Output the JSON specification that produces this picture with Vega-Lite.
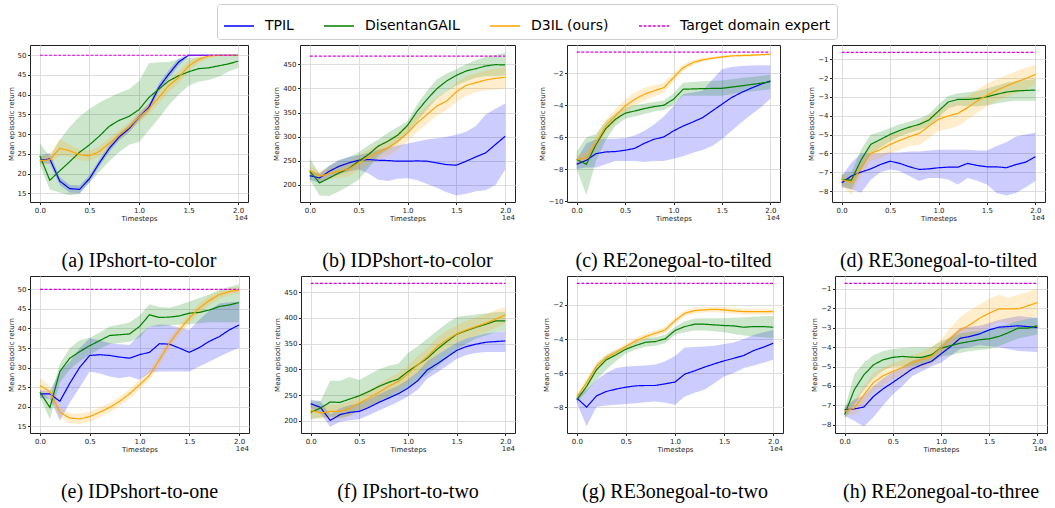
{
"$schema":"https://vega.github.io/schema/vega-lite/v6.json",
"background":"white",
"padding":{"left":6,"top":3,"right":2,"bottom":2},
"data":{"values":[
{"p":"a","m":"TPIL","x":0,"y":23.4,"lo":22.6,"hi":24.4},{"p":"a","m":"TPIL","x":0.1,"y":23.7,"lo":22.5,"hi":25.3},{"p":"a","m":"TPIL","x":0.2,"y":18.1,"lo":17.1,"hi":19.1},{"p":"a","m":"TPIL","x":0.3,"y":16.2,"lo":15.2,"hi":17.2},{"p":"a","m":"TPIL","x":0.4,"y":16.0,"lo":15.0,"hi":17.0},{"p":"a","m":"TPIL","x":0.5,"y":18.7,"lo":17.8,"hi":19.6},{"p":"a","m":"TPIL","x":0.6,"y":22.7,"lo":21.8,"hi":23.6},{"p":"a","m":"TPIL","x":0.7,"y":26.4,"lo":25.5,"hi":27.3},{"p":"a","m":"TPIL","x":0.8,"y":29.3,"lo":28.4,"hi":30.2},{"p":"a","m":"TPIL","x":0.9,"y":31.4,"lo":30.5,"hi":32.3},{"p":"a","m":"TPIL","x":1.0,"y":34.3,"lo":33.4,"hi":35.2},{"p":"a","m":"TPIL","x":1.1,"y":36.8,"lo":35.8,"hi":37.8},{"p":"a","m":"TPIL","x":1.2,"y":41.8,"lo":40.8,"hi":42.8},{"p":"a","m":"TPIL","x":1.3,"y":45.2,"lo":44.2,"hi":46.2},{"p":"a","m":"TPIL","x":1.4,"y":48.3,"lo":47.4,"hi":49.2},{"p":"a","m":"TPIL","x":1.5,"y":50,"lo":49.7,"hi":50.2},{"p":"a","m":"TPIL","x":1.7,"y":50,"lo":49.9,"hi":50.1},{"p":"a","m":"TPIL","x":2.0,"y":50,"lo":49.9,"hi":50.1},
{"p":"a","m":"DisentanGAIL","x":0,"y":24.5,"lo":22.2,"hi":27.7},{"p":"a","m":"DisentanGAIL","x":0.1,"y":18.3,"lo":16.0,"hi":24.3},{"p":"a","m":"DisentanGAIL","x":0.2,"y":20.7,"lo":15.2,"hi":28.5},{"p":"a","m":"DisentanGAIL","x":0.3,"y":23.0,"lo":14.5,"hi":31.8},{"p":"a","m":"DisentanGAIL","x":0.4,"y":25.4,"lo":14.8,"hi":34.5},{"p":"a","m":"DisentanGAIL","x":0.5,"y":27.3,"lo":17.7,"hi":36.4},{"p":"a","m":"DisentanGAIL","x":0.6,"y":29.5,"lo":20.5,"hi":38.0},{"p":"a","m":"DisentanGAIL","x":0.7,"y":32.0,"lo":23.1,"hi":39.3},{"p":"a","m":"DisentanGAIL","x":0.8,"y":33.5,"lo":25.5,"hi":40.5},{"p":"a","m":"DisentanGAIL","x":0.9,"y":34.5,"lo":27.3,"hi":41.4},{"p":"a","m":"DisentanGAIL","x":1.0,"y":36.2,"lo":28.0,"hi":43.5},{"p":"a","m":"DisentanGAIL","x":1.1,"y":39.3,"lo":31.0,"hi":48.0},{"p":"a","m":"DisentanGAIL","x":1.2,"y":41.4,"lo":34.0,"hi":48.2},{"p":"a","m":"DisentanGAIL","x":1.3,"y":43.5,"lo":37.3,"hi":48.3},{"p":"a","m":"DisentanGAIL","x":1.4,"y":44.8,"lo":40.0,"hi":49.0},{"p":"a","m":"DisentanGAIL","x":1.5,"y":45.8,"lo":42.3,"hi":49.3},{"p":"a","m":"DisentanGAIL","x":1.6,"y":46.6,"lo":43.3,"hi":49.5},{"p":"a","m":"DisentanGAIL","x":1.7,"y":46.8,"lo":43.7,"hi":49.7},{"p":"a","m":"DisentanGAIL","x":1.8,"y":47.3,"lo":44.5,"hi":49.8},{"p":"a","m":"DisentanGAIL","x":1.9,"y":47.8,"lo":45.8,"hi":50.0},{"p":"a","m":"DisentanGAIL","x":2.0,"y":48.5,"lo":46.8,"hi":50.2},
{"p":"a","m":"D3IL (ours)","x":0,"y":23.3,"lo":22.3,"hi":24.3},{"p":"a","m":"D3IL (ours)","x":0.1,"y":23.5,"lo":22.5,"hi":25.0},{"p":"a","m":"D3IL (ours)","x":0.2,"y":26.4,"lo":24.5,"hi":28.8},{"p":"a","m":"D3IL (ours)","x":0.3,"y":25.8,"lo":24.3,"hi":27.3},{"p":"a","m":"D3IL (ours)","x":0.4,"y":24.8,"lo":23.4,"hi":26.1},{"p":"a","m":"D3IL (ours)","x":0.5,"y":24.5,"lo":23.2,"hi":25.8},{"p":"a","m":"D3IL (ours)","x":0.6,"y":25.6,"lo":24.3,"hi":26.9},{"p":"a","m":"D3IL (ours)","x":0.7,"y":27.7,"lo":26.4,"hi":29.0},{"p":"a","m":"D3IL (ours)","x":0.8,"y":29.8,"lo":28.5,"hi":31.0},{"p":"a","m":"D3IL (ours)","x":0.9,"y":31.8,"lo":30.5,"hi":33.1},{"p":"a","m":"D3IL (ours)","x":1.0,"y":34.3,"lo":32.9,"hi":35.7},{"p":"a","m":"D3IL (ours)","x":1.1,"y":36.4,"lo":35.0,"hi":37.8},{"p":"a","m":"D3IL (ours)","x":1.2,"y":39.3,"lo":37.8,"hi":40.8},{"p":"a","m":"D3IL (ours)","x":1.3,"y":42.3,"lo":40.7,"hi":43.8},{"p":"a","m":"D3IL (ours)","x":1.4,"y":44.3,"lo":42.8,"hi":45.8},{"p":"a","m":"D3IL (ours)","x":1.5,"y":47.3,"lo":46.0,"hi":48.5},{"p":"a","m":"D3IL (ours)","x":1.6,"y":48.9,"lo":48.0,"hi":49.7},{"p":"a","m":"D3IL (ours)","x":1.7,"y":49.8,"lo":49.3,"hi":50.1},{"p":"a","m":"D3IL (ours)","x":1.8,"y":50,"lo":49.8,"hi":50.1},{"p":"a","m":"D3IL (ours)","x":2.0,"y":50,"lo":49.9,"hi":50.1},
{"p":"a","m":"Target domain expert","x":0,"y":50},{"p":"a","m":"Target domain expert","x":2,"y":50},

{"p":"b","m":"TPIL","x":0,"y":219.4,"lo":211,"hi":228},{"p":"b","m":"TPIL","x":0.1,"y":214.5,"lo":204,"hi":225},{"p":"b","m":"TPIL","x":0.2,"y":228.4,"lo":215,"hi":240},{"p":"b","m":"TPIL","x":0.3,"y":238.8,"lo":222,"hi":252},{"p":"b","m":"TPIL","x":0.4,"y":245.7,"lo":228,"hi":258},{"p":"b","m":"TPIL","x":0.5,"y":251.2,"lo":232,"hi":262},{"p":"b","m":"TPIL","x":0.6,"y":252.6,"lo":224,"hi":266},{"p":"b","m":"TPIL","x":0.7,"y":251.2,"lo":211,"hi":273},{"p":"b","m":"TPIL","x":0.8,"y":250.6,"lo":208,"hi":278},{"p":"b","m":"TPIL","x":0.9,"y":249.2,"lo":213,"hi":282},{"p":"b","m":"TPIL","x":1.0,"y":249.2,"lo":214,"hi":286},{"p":"b","m":"TPIL","x":1.1,"y":249.9,"lo":210,"hi":290},{"p":"b","m":"TPIL","x":1.2,"y":249.2,"lo":202,"hi":294},{"p":"b","m":"TPIL","x":1.3,"y":245.7,"lo":194,"hi":297},{"p":"b","m":"TPIL","x":1.4,"y":242.2,"lo":185,"hi":300},{"p":"b","m":"TPIL","x":1.5,"y":240.9,"lo":178,"hi":304},{"p":"b","m":"TPIL","x":1.6,"y":249.2,"lo":182,"hi":310},{"p":"b","m":"TPIL","x":1.7,"y":258.2,"lo":187,"hi":322},{"p":"b","m":"TPIL","x":1.8,"y":266.5,"lo":189,"hi":346},{"p":"b","m":"TPIL","x":1.9,"y":283.8,"lo":200,"hi":358},{"p":"b","m":"TPIL","x":2.0,"y":301,"lo":232,"hi":369},
{"p":"b","m":"DisentanGAIL","x":0,"y":228.4,"lo":211,"hi":256},{"p":"b","m":"DisentanGAIL","x":0.1,"y":204.2,"lo":178,"hi":222},{"p":"b","m":"DisentanGAIL","x":0.2,"y":214.5,"lo":177,"hi":240},{"p":"b","m":"DisentanGAIL","x":0.3,"y":225,"lo":187,"hi":250},{"p":"b","m":"DisentanGAIL","x":0.4,"y":234,"lo":198,"hi":258},{"p":"b","m":"DisentanGAIL","x":0.5,"y":249.2,"lo":211,"hi":268},{"p":"b","m":"DisentanGAIL","x":0.6,"y":263,"lo":235,"hi":282},{"p":"b","m":"DisentanGAIL","x":0.7,"y":280.3,"lo":260,"hi":294},{"p":"b","m":"DisentanGAIL","x":0.8,"y":290.7,"lo":274,"hi":308},{"p":"b","m":"DisentanGAIL","x":0.9,"y":303.2,"lo":287,"hi":320},{"p":"b","m":"DisentanGAIL","x":1.0,"y":323.3,"lo":305,"hi":332},{"p":"b","m":"DisentanGAIL","x":1.1,"y":353,"lo":332,"hi":367},{"p":"b","m":"DisentanGAIL","x":1.2,"y":377.3,"lo":356,"hi":395},{"p":"b","m":"DisentanGAIL","x":1.3,"y":399.4,"lo":379,"hi":419},{"p":"b","m":"DisentanGAIL","x":1.4,"y":415.4,"lo":393,"hi":431},{"p":"b","m":"DisentanGAIL","x":1.5,"y":427.1,"lo":406,"hi":440},{"p":"b","m":"DisentanGAIL","x":1.6,"y":436.2,"lo":415,"hi":450},{"p":"b","m":"DisentanGAIL","x":1.7,"y":441,"lo":422,"hi":459},{"p":"b","m":"DisentanGAIL","x":1.8,"y":446.5,"lo":425,"hi":465},{"p":"b","m":"DisentanGAIL","x":1.9,"y":449.3,"lo":426,"hi":470},{"p":"b","m":"DisentanGAIL","x":2.0,"y":448.6,"lo":427,"hi":474},
{"p":"b","m":"D3IL (ours)","x":0,"y":230.5,"lo":220,"hi":240},{"p":"b","m":"D3IL (ours)","x":0.1,"y":218,"lo":208,"hi":228},{"p":"b","m":"D3IL (ours)","x":0.2,"y":223.5,"lo":212,"hi":235},{"p":"b","m":"D3IL (ours)","x":0.3,"y":228.4,"lo":215,"hi":242},{"p":"b","m":"D3IL (ours)","x":0.4,"y":233.2,"lo":218,"hi":248},{"p":"b","m":"D3IL (ours)","x":0.5,"y":245.7,"lo":230,"hi":260},{"p":"b","m":"D3IL (ours)","x":0.6,"y":258.2,"lo":242,"hi":273},{"p":"b","m":"D3IL (ours)","x":0.7,"y":267.9,"lo":252,"hi":284},{"p":"b","m":"D3IL (ours)","x":0.8,"y":276.9,"lo":260,"hi":294},{"p":"b","m":"D3IL (ours)","x":0.9,"y":290.7,"lo":273,"hi":308},{"p":"b","m":"D3IL (ours)","x":1.0,"y":308,"lo":290,"hi":326},{"p":"b","m":"D3IL (ours)","x":1.1,"y":328.8,"lo":310,"hi":347},{"p":"b","m":"D3IL (ours)","x":1.2,"y":346.1,"lo":327,"hi":365},{"p":"b","m":"D3IL (ours)","x":1.3,"y":363.4,"lo":344,"hi":382},{"p":"b","m":"D3IL (ours)","x":1.4,"y":373.8,"lo":355,"hi":393},{"p":"b","m":"D3IL (ours)","x":1.5,"y":393.2,"lo":372,"hi":412},{"p":"b","m":"D3IL (ours)","x":1.6,"y":406.4,"lo":385,"hi":425},{"p":"b","m":"D3IL (ours)","x":1.7,"y":411.9,"lo":392,"hi":431},{"p":"b","m":"D3IL (ours)","x":1.8,"y":417.5,"lo":396,"hi":437},{"p":"b","m":"D3IL (ours)","x":1.9,"y":420.9,"lo":398,"hi":441},{"p":"b","m":"D3IL (ours)","x":2.0,"y":423,"lo":400,"hi":444},
{"p":"b","m":"Target domain expert","x":0,"y":467},{"p":"b","m":"Target domain expert","x":2,"y":467},

{"p":"c","m":"TPIL","x":0,"y":-7.70,"lo":-8.0,"hi":-7.4},{"p":"c","m":"TPIL","x":0.1,"y":-7.45,"lo":-7.9,"hi":-6.4},{"p":"c","m":"TPIL","x":0.2,"y":-7.03,"lo":-7.9,"hi":-6.13},{"p":"c","m":"TPIL","x":0.3,"y":-6.93,"lo":-7.7,"hi":-6.1},{"p":"c","m":"TPIL","x":0.4,"y":-6.9,"lo":-7.5,"hi":-6.1},{"p":"c","m":"TPIL","x":0.5,"y":-6.82,"lo":-7.5,"hi":-6.05},{"p":"c","m":"TPIL","x":0.6,"y":-6.7,"lo":-7.5,"hi":-5.9},{"p":"c","m":"TPIL","x":0.7,"y":-6.38,"lo":-7.55,"hi":-5.6},{"p":"c","m":"TPIL","x":0.8,"y":-6.13,"lo":-7.5,"hi":-5.2},{"p":"c","m":"TPIL","x":0.9,"y":-5.99,"lo":-7.5,"hi":-4.7},{"p":"c","m":"TPIL","x":1.0,"y":-5.61,"lo":-7.35,"hi":-4.05},{"p":"c","m":"TPIL","x":1.1,"y":-5.3,"lo":-7.2,"hi":-3.3},{"p":"c","m":"TPIL","x":1.2,"y":-5.05,"lo":-6.97,"hi":-3.2},{"p":"c","m":"TPIL","x":1.3,"y":-4.78,"lo":-6.8,"hi":-3.1},{"p":"c","m":"TPIL","x":1.4,"y":-4.36,"lo":-6.55,"hi":-2.4},{"p":"c","m":"TPIL","x":1.5,"y":-3.94,"lo":-6.13,"hi":-1.75},{"p":"c","m":"TPIL","x":1.6,"y":-3.52,"lo":-5.6,"hi":-1.6},{"p":"c","m":"TPIL","x":1.7,"y":-3.21,"lo":-5.09,"hi":-1.54},{"p":"c","m":"TPIL","x":1.8,"y":-2.94,"lo":-4.6,"hi":-1.52},{"p":"c","m":"TPIL","x":1.9,"y":-2.69,"lo":-4.15,"hi":-1.5},{"p":"c","m":"TPIL","x":2.0,"y":-2.48,"lo":-3.59,"hi":-1.5},
{"p":"c","m":"DisentanGAIL","x":0,"y":-7.39,"lo":-8.0,"hi":-6.9},{"p":"c","m":"DisentanGAIL","x":0.1,"y":-7.7,"lo":-9.62,"hi":-6.0},{"p":"c","m":"DisentanGAIL","x":0.2,"y":-6.45,"lo":-7.5,"hi":-5.8},{"p":"c","m":"DisentanGAIL","x":0.3,"y":-5.47,"lo":-6.2,"hi":-5.0},{"p":"c","m":"DisentanGAIL","x":0.4,"y":-4.88,"lo":-5.3,"hi":-4.5},{"p":"c","m":"DisentanGAIL","x":0.5,"y":-4.5,"lo":-4.85,"hi":-4.15},{"p":"c","m":"DisentanGAIL","x":0.6,"y":-4.36,"lo":-4.7,"hi":-4.0},{"p":"c","m":"DisentanGAIL","x":0.7,"y":-4.21,"lo":-4.55,"hi":-3.9},{"p":"c","m":"DisentanGAIL","x":0.8,"y":-4.09,"lo":-4.4,"hi":-3.8},{"p":"c","m":"DisentanGAIL","x":0.9,"y":-4.0,"lo":-4.3,"hi":-3.7},{"p":"c","m":"DisentanGAIL","x":1.0,"y":-3.63,"lo":-4.0,"hi":-3.25},{"p":"c","m":"DisentanGAIL","x":1.1,"y":-3.0,"lo":-3.4,"hi":-2.6},{"p":"c","m":"DisentanGAIL","x":1.2,"y":-2.98,"lo":-3.4,"hi":-2.55},{"p":"c","m":"DisentanGAIL","x":1.3,"y":-2.96,"lo":-3.4,"hi":-2.5},{"p":"c","m":"DisentanGAIL","x":1.5,"y":-2.94,"lo":-3.4,"hi":-2.45},{"p":"c","m":"DisentanGAIL","x":1.7,"y":-2.79,"lo":-3.2,"hi":-2.3},{"p":"c","m":"DisentanGAIL","x":2.0,"y":-2.54,"lo":-3.0,"hi":-2.1},
{"p":"c","m":"D3IL (ours)","x":0,"y":-7.43,"lo":-7.75,"hi":-7.1},{"p":"c","m":"D3IL (ours)","x":0.1,"y":-7.28,"lo":-7.6,"hi":-6.9},{"p":"c","m":"D3IL (ours)","x":0.2,"y":-6.34,"lo":-6.75,"hi":-5.95},{"p":"c","m":"D3IL (ours)","x":0.3,"y":-5.3,"lo":-5.75,"hi":-4.9},{"p":"c","m":"D3IL (ours)","x":0.4,"y":-4.67,"lo":-5.1,"hi":-4.25},{"p":"c","m":"D3IL (ours)","x":0.5,"y":-4.05,"lo":-4.45,"hi":-3.65},{"p":"c","m":"D3IL (ours)","x":0.6,"y":-3.63,"lo":-4.05,"hi":-3.2},{"p":"c","m":"D3IL (ours)","x":0.7,"y":-3.31,"lo":-3.7,"hi":-2.9},{"p":"c","m":"D3IL (ours)","x":0.8,"y":-3.1,"lo":-3.45,"hi":-2.75},{"p":"c","m":"D3IL (ours)","x":0.9,"y":-2.9,"lo":-3.2,"hi":-2.6},{"p":"c","m":"D3IL (ours)","x":1.0,"y":-2.27,"lo":-2.55,"hi":-2.0},{"p":"c","m":"D3IL (ours)","x":1.1,"y":-1.65,"lo":-1.85,"hi":-1.45},{"p":"c","m":"D3IL (ours)","x":1.2,"y":-1.33,"lo":-1.5,"hi":-1.18},{"p":"c","m":"D3IL (ours)","x":1.3,"y":-1.16,"lo":-1.28,"hi":-1.05},{"p":"c","m":"D3IL (ours)","x":1.4,"y":-1.06,"lo":-1.16,"hi":-0.96},{"p":"c","m":"D3IL (ours)","x":1.5,"y":-0.98,"lo":-1.08,"hi":-0.9},{"p":"c","m":"D3IL (ours)","x":1.6,"y":-0.91,"lo":-1.0,"hi":-0.84},{"p":"c","m":"D3IL (ours)","x":1.8,"y":-0.87,"lo":-0.95,"hi":-0.8},{"p":"c","m":"D3IL (ours)","x":2.0,"y":-0.81,"lo":-0.88,"hi":-0.75},
{"p":"c","m":"Target domain expert","x":0,"y":-0.68},{"p":"c","m":"Target domain expert","x":2,"y":-0.68},

{"p":"d","m":"TPIL","x":0,"y":-7.56,"lo":-7.8,"hi":-7.2},{"p":"d","m":"TPIL","x":0.1,"y":-7.2,"lo":-7.9,"hi":-6.5},{"p":"d","m":"TPIL","x":0.2,"y":-6.99,"lo":-8.09,"hi":-6.0},{"p":"d","m":"TPIL","x":0.3,"y":-6.82,"lo":-7.4,"hi":-6.0},{"p":"d","m":"TPIL","x":0.4,"y":-6.59,"lo":-7.0,"hi":-6.0},{"p":"d","m":"TPIL","x":0.5,"y":-6.41,"lo":-6.85,"hi":-5.95},{"p":"d","m":"TPIL","x":0.6,"y":-6.53,"lo":-6.94,"hi":-5.95},{"p":"d","m":"TPIL","x":0.7,"y":-6.71,"lo":-7.2,"hi":-5.9},{"p":"d","m":"TPIL","x":0.8,"y":-6.85,"lo":-7.47,"hi":-5.9},{"p":"d","m":"TPIL","x":0.9,"y":-6.82,"lo":-7.3,"hi":-5.85},{"p":"d","m":"TPIL","x":1.0,"y":-6.76,"lo":-7.3,"hi":-5.8},{"p":"d","m":"TPIL","x":1.1,"y":-6.73,"lo":-7.38,"hi":-5.8},{"p":"d","m":"TPIL","x":1.2,"y":-6.73,"lo":-7.65,"hi":-5.8},{"p":"d","m":"TPIL","x":1.3,"y":-6.53,"lo":-7.3,"hi":-5.8},{"p":"d","m":"TPIL","x":1.4,"y":-6.64,"lo":-7.45,"hi":-5.85},{"p":"d","m":"TPIL","x":1.5,"y":-6.71,"lo":-7.65,"hi":-5.85},{"p":"d","m":"TPIL","x":1.6,"y":-6.71,"lo":-8.1,"hi":-5.6},{"p":"d","m":"TPIL","x":1.7,"y":-6.76,"lo":-8.23,"hi":-5.4},{"p":"d","m":"TPIL","x":1.8,"y":-6.59,"lo":-8.1,"hi":-5.1},{"p":"d","m":"TPIL","x":1.9,"y":-6.46,"lo":-7.8,"hi":-5.0},{"p":"d","m":"TPIL","x":2.0,"y":-6.18,"lo":-7.47,"hi":-4.9},
{"p":"d","m":"DisentanGAIL","x":0,"y":-7.38,"lo":-7.7,"hi":-7.1},{"p":"d","m":"DisentanGAIL","x":0.1,"y":-7.42,"lo":-7.9,"hi":-7.0},{"p":"d","m":"DisentanGAIL","x":0.2,"y":-6.35,"lo":-6.9,"hi":-5.8},{"p":"d","m":"DisentanGAIL","x":0.3,"y":-5.52,"lo":-6.0,"hi":-5.0},{"p":"d","m":"DisentanGAIL","x":0.4,"y":-5.26,"lo":-5.7,"hi":-4.85},{"p":"d","m":"DisentanGAIL","x":0.5,"y":-4.99,"lo":-5.35,"hi":-4.65},{"p":"d","m":"DisentanGAIL","x":0.6,"y":-4.78,"lo":-5.1,"hi":-4.45},{"p":"d","m":"DisentanGAIL","x":0.7,"y":-4.6,"lo":-4.9,"hi":-4.3},{"p":"d","m":"DisentanGAIL","x":0.8,"y":-4.46,"lo":-4.75,"hi":-4.15},{"p":"d","m":"DisentanGAIL","x":0.9,"y":-4.23,"lo":-4.55,"hi":-3.9},{"p":"d","m":"DisentanGAIL","x":1.0,"y":-3.75,"lo":-4.1,"hi":-3.4},{"p":"d","m":"DisentanGAIL","x":1.1,"y":-3.27,"lo":-3.6,"hi":-2.95},{"p":"d","m":"DisentanGAIL","x":1.2,"y":-3.13,"lo":-3.45,"hi":-2.8},{"p":"d","m":"DisentanGAIL","x":1.3,"y":-3.13,"lo":-3.5,"hi":-2.75},{"p":"d","m":"DisentanGAIL","x":1.4,"y":-3.09,"lo":-3.5,"hi":-2.7},{"p":"d","m":"DisentanGAIL","x":1.5,"y":-2.99,"lo":-3.45,"hi":-2.55},{"p":"d","m":"DisentanGAIL","x":1.6,"y":-2.86,"lo":-3.35,"hi":-2.4},{"p":"d","m":"DisentanGAIL","x":1.7,"y":-2.74,"lo":-3.25,"hi":-2.25},{"p":"d","m":"DisentanGAIL","x":1.8,"y":-2.68,"lo":-3.2,"hi":-2.15},{"p":"d","m":"DisentanGAIL","x":2.0,"y":-2.63,"lo":-3.2,"hi":-2.05},
{"p":"d","m":"D3IL (ours)","x":0,"y":-7.38,"lo":-7.7,"hi":-7.1},{"p":"d","m":"D3IL (ours)","x":0.1,"y":-7.56,"lo":-8.2,"hi":-7.2},{"p":"d","m":"D3IL (ours)","x":0.2,"y":-6.76,"lo":-7.2,"hi":-6.3},{"p":"d","m":"D3IL (ours)","x":0.3,"y":-6.0,"lo":-6.4,"hi":-5.6},{"p":"d","m":"D3IL (ours)","x":0.4,"y":-5.79,"lo":-6.25,"hi":-5.35},{"p":"d","m":"D3IL (ours)","x":0.5,"y":-5.52,"lo":-6.0,"hi":-5.05},{"p":"d","m":"D3IL (ours)","x":0.6,"y":-5.31,"lo":-5.8,"hi":-4.85},{"p":"d","m":"D3IL (ours)","x":0.7,"y":-5.11,"lo":-5.6,"hi":-4.6},{"p":"d","m":"D3IL (ours)","x":0.8,"y":-4.94,"lo":-5.55,"hi":-4.4},{"p":"d","m":"D3IL (ours)","x":0.9,"y":-4.55,"lo":-5.2,"hi":-4.0},{"p":"d","m":"D3IL (ours)","x":1.0,"y":-4.19,"lo":-4.8,"hi":-3.65},{"p":"d","m":"D3IL (ours)","x":1.1,"y":-4.01,"lo":-4.7,"hi":-3.35},{"p":"d","m":"D3IL (ours)","x":1.2,"y":-3.87,"lo":-4.55,"hi":-3.2},{"p":"d","m":"D3IL (ours)","x":1.3,"y":-3.57,"lo":-4.2,"hi":-2.95},{"p":"d","m":"D3IL (ours)","x":1.4,"y":-3.22,"lo":-3.85,"hi":-2.6},{"p":"d","m":"D3IL (ours)","x":1.5,"y":-2.91,"lo":-3.5,"hi":-2.3},{"p":"d","m":"D3IL (ours)","x":1.6,"y":-2.65,"lo":-3.2,"hi":-2.05},{"p":"d","m":"D3IL (ours)","x":1.7,"y":-2.42,"lo":-3.0,"hi":-1.85},{"p":"d","m":"D3IL (ours)","x":1.8,"y":-2.21,"lo":-2.8,"hi":-1.65},{"p":"d","m":"D3IL (ours)","x":1.9,"y":-2.03,"lo":-2.6,"hi":-1.45},{"p":"d","m":"D3IL (ours)","x":2.0,"y":-1.8,"lo":-2.35,"hi":-1.3},
{"p":"d","m":"Target domain expert","x":0,"y":-0.63},{"p":"d","m":"Target domain expert","x":2,"y":-0.63},

{"p":"e","m":"TPIL","x":0,"y":23.3,"lo":22.3,"hi":24.3},{"p":"e","m":"TPIL","x":0.1,"y":23.3,"lo":22.0,"hi":24.0},{"p":"e","m":"TPIL","x":0.2,"y":21.4,"lo":16.5,"hi":29.0},{"p":"e","m":"TPIL","x":0.3,"y":26.0,"lo":21.0,"hi":31.5},{"p":"e","m":"TPIL","x":0.4,"y":30.1,"lo":25.0,"hi":35.0},{"p":"e","m":"TPIL","x":0.5,"y":33.1,"lo":29.0,"hi":37.5},{"p":"e","m":"TPIL","x":0.6,"y":33.3,"lo":28.5,"hi":37.0},{"p":"e","m":"TPIL","x":0.7,"y":33.1,"lo":27.7,"hi":36.2},{"p":"e","m":"TPIL","x":0.8,"y":32.7,"lo":27.3,"hi":36.0},{"p":"e","m":"TPIL","x":0.9,"y":32.4,"lo":27.7,"hi":35.8},{"p":"e","m":"TPIL","x":1.0,"y":33.3,"lo":26.9,"hi":38.4},{"p":"e","m":"TPIL","x":1.1,"y":33.9,"lo":28.6,"hi":40.5},{"p":"e","m":"TPIL","x":1.2,"y":36.1,"lo":29.0,"hi":41.0},{"p":"e","m":"TPIL","x":1.3,"y":36.0,"lo":29.0,"hi":40.9},{"p":"e","m":"TPIL","x":1.4,"y":35.0,"lo":29.0,"hi":40.2},{"p":"e","m":"TPIL","x":1.5,"y":33.9,"lo":29.0,"hi":39.6},{"p":"e","m":"TPIL","x":1.6,"y":35.1,"lo":30.3,"hi":42.2},{"p":"e","m":"TPIL","x":1.7,"y":36.7,"lo":31.5,"hi":44.5},{"p":"e","m":"TPIL","x":1.8,"y":37.9,"lo":32.8,"hi":46.4},{"p":"e","m":"TPIL","x":1.9,"y":39.6,"lo":34.0,"hi":46.7},{"p":"e","m":"TPIL","x":2.0,"y":40.9,"lo":35.0,"hi":46.9},
{"p":"e","m":"DisentanGAIL","x":0,"y":23.7,"lo":22.5,"hi":24.3},{"p":"e","m":"DisentanGAIL","x":0.1,"y":19.8,"lo":16.8,"hi":22.0},{"p":"e","m":"DisentanGAIL","x":0.2,"y":29.0,"lo":26.2,"hi":31.0},{"p":"e","m":"DisentanGAIL","x":0.3,"y":32.4,"lo":29.5,"hi":35.0},{"p":"e","m":"DisentanGAIL","x":0.4,"y":34.1,"lo":31.6,"hi":37.0},{"p":"e","m":"DisentanGAIL","x":0.5,"y":35.6,"lo":33.3,"hi":37.6},{"p":"e","m":"DisentanGAIL","x":0.6,"y":36.9,"lo":34.8,"hi":39.0},{"p":"e","m":"DisentanGAIL","x":0.7,"y":38.2,"lo":36.0,"hi":40.5},{"p":"e","m":"DisentanGAIL","x":0.8,"y":38.4,"lo":36.3,"hi":41.0},{"p":"e","m":"DisentanGAIL","x":0.9,"y":38.6,"lo":36.6,"hi":41.5},{"p":"e","m":"DisentanGAIL","x":1.0,"y":40.5,"lo":37.6,"hi":43.3},{"p":"e","m":"DisentanGAIL","x":1.1,"y":43.5,"lo":40.5,"hi":46.2},{"p":"e","m":"DisentanGAIL","x":1.2,"y":42.8,"lo":40.5,"hi":45.5},{"p":"e","m":"DisentanGAIL","x":1.3,"y":42.9,"lo":40.8,"hi":45.3},{"p":"e","m":"DisentanGAIL","x":1.4,"y":43.2,"lo":41.0,"hi":46.0},{"p":"e","m":"DisentanGAIL","x":1.5,"y":43.9,"lo":41.1,"hi":46.9},{"p":"e","m":"DisentanGAIL","x":1.6,"y":44.1,"lo":41.3,"hi":47.8},{"p":"e","m":"DisentanGAIL","x":1.7,"y":44.7,"lo":41.6,"hi":48.7},{"p":"e","m":"DisentanGAIL","x":1.8,"y":45.6,"lo":41.6,"hi":49.8},{"p":"e","m":"DisentanGAIL","x":1.9,"y":46.0,"lo":41.6,"hi":50.6},{"p":"e","m":"DisentanGAIL","x":2.0,"y":46.6,"lo":41.6,"hi":51.3},
{"p":"e","m":"D3IL (ours)","x":0,"y":25.4,"lo":23.5,"hi":27.3},{"p":"e","m":"D3IL (ours)","x":0.1,"y":23.9,"lo":22.5,"hi":25.3},{"p":"e","m":"D3IL (ours)","x":0.2,"y":18.6,"lo":17.2,"hi":20.0},{"p":"e","m":"D3IL (ours)","x":0.3,"y":17.1,"lo":15.8,"hi":18.4},{"p":"e","m":"D3IL (ours)","x":0.4,"y":16.9,"lo":15.6,"hi":18.3},{"p":"e","m":"D3IL (ours)","x":0.5,"y":17.5,"lo":16.2,"hi":18.8},{"p":"e","m":"D3IL (ours)","x":0.6,"y":18.6,"lo":17.3,"hi":19.9},{"p":"e","m":"D3IL (ours)","x":0.7,"y":19.8,"lo":18.6,"hi":21.0},{"p":"e","m":"D3IL (ours)","x":0.8,"y":21.4,"lo":20.2,"hi":22.6},{"p":"e","m":"D3IL (ours)","x":0.9,"y":23.3,"lo":22.1,"hi":24.5},{"p":"e","m":"D3IL (ours)","x":1.0,"y":25.6,"lo":24.4,"hi":26.8},{"p":"e","m":"D3IL (ours)","x":1.1,"y":28.0,"lo":26.8,"hi":29.2},{"p":"e","m":"D3IL (ours)","x":1.2,"y":32.0,"lo":30.8,"hi":33.2},{"p":"e","m":"D3IL (ours)","x":1.3,"y":36.2,"lo":35.0,"hi":37.4},{"p":"e","m":"D3IL (ours)","x":1.4,"y":39.6,"lo":38.4,"hi":40.8},{"p":"e","m":"D3IL (ours)","x":1.5,"y":42.6,"lo":41.4,"hi":43.8},{"p":"e","m":"D3IL (ours)","x":1.6,"y":45.2,"lo":44.0,"hi":46.4},{"p":"e","m":"D3IL (ours)","x":1.7,"y":47.1,"lo":46.0,"hi":48.2},{"p":"e","m":"D3IL (ours)","x":1.8,"y":48.6,"lo":47.6,"hi":49.6},{"p":"e","m":"D3IL (ours)","x":1.9,"y":49.4,"lo":48.5,"hi":50.3},{"p":"e","m":"D3IL (ours)","x":2.0,"y":49.8,"lo":49.0,"hi":50.6},
{"p":"e","m":"Target domain expert","x":0,"y":50},{"p":"e","m":"Target domain expert","x":2,"y":50},

{"p":"f","m":"TPIL","x":0,"y":233,"lo":225,"hi":241},{"p":"f","m":"TPIL","x":0.1,"y":226,"lo":214,"hi":238},{"p":"f","m":"TPIL","x":0.2,"y":200.6,"lo":188,"hi":212},{"p":"f","m":"TPIL","x":0.3,"y":211.7,"lo":198,"hi":224},{"p":"f","m":"TPIL","x":0.4,"y":216.2,"lo":201,"hi":230},{"p":"f","m":"TPIL","x":0.5,"y":218.1,"lo":203,"hi":234},{"p":"f","m":"TPIL","x":0.6,"y":226,"lo":211,"hi":242},{"p":"f","m":"TPIL","x":0.7,"y":235.6,"lo":220,"hi":251},{"p":"f","m":"TPIL","x":0.8,"y":244.0,"lo":228,"hi":260},{"p":"f","m":"TPIL","x":0.9,"y":252.5,"lo":237,"hi":268},{"p":"f","m":"TPIL","x":1.0,"y":263.5,"lo":247,"hi":280},{"p":"f","m":"TPIL","x":1.1,"y":277.7,"lo":260,"hi":295},{"p":"f","m":"TPIL","x":1.2,"y":299.1,"lo":282,"hi":316},{"p":"f","m":"TPIL","x":1.3,"y":310.8,"lo":294,"hi":328},{"p":"f","m":"TPIL","x":1.4,"y":323.7,"lo":307,"hi":340},{"p":"f","m":"TPIL","x":1.5,"y":336.7,"lo":320,"hi":352},{"p":"f","m":"TPIL","x":1.6,"y":344.4,"lo":328,"hi":360},{"p":"f","m":"TPIL","x":1.7,"y":349,"lo":332,"hi":365},{"p":"f","m":"TPIL","x":1.8,"y":352.8,"lo":334,"hi":370},{"p":"f","m":"TPIL","x":1.9,"y":354.1,"lo":334,"hi":372},{"p":"f","m":"TPIL","x":2.0,"y":355.4,"lo":334,"hi":374},
{"p":"f","m":"DisentanGAIL","x":0,"y":216.2,"lo":202,"hi":237},{"p":"f","m":"DisentanGAIL","x":0.1,"y":224.6,"lo":206,"hi":238},{"p":"f","m":"DisentanGAIL","x":0.2,"y":236.3,"lo":208,"hi":278},{"p":"f","m":"DisentanGAIL","x":0.3,"y":235.6,"lo":205,"hi":278},{"p":"f","m":"DisentanGAIL","x":0.4,"y":242.1,"lo":210,"hi":285},{"p":"f","m":"DisentanGAIL","x":0.5,"y":248.6,"lo":220,"hi":279},{"p":"f","m":"DisentanGAIL","x":0.6,"y":257,"lo":228,"hi":290},{"p":"f","m":"DisentanGAIL","x":0.7,"y":266.7,"lo":235,"hi":300},{"p":"f","m":"DisentanGAIL","x":0.8,"y":274.5,"lo":242,"hi":307},{"p":"f","m":"DisentanGAIL","x":0.9,"y":281,"lo":252,"hi":311},{"p":"f","m":"DisentanGAIL","x":1.0,"y":295.9,"lo":265,"hi":332},{"p":"f","m":"DisentanGAIL","x":1.1,"y":308.8,"lo":278,"hi":345},{"p":"f","m":"DisentanGAIL","x":1.2,"y":321.8,"lo":290,"hi":360},{"p":"f","m":"DisentanGAIL","x":1.3,"y":339.2,"lo":305,"hi":375},{"p":"f","m":"DisentanGAIL","x":1.4,"y":354.1,"lo":322,"hi":390},{"p":"f","m":"DisentanGAIL","x":1.5,"y":368.4,"lo":338,"hi":402},{"p":"f","m":"DisentanGAIL","x":1.6,"y":375.5,"lo":350,"hi":405},{"p":"f","m":"DisentanGAIL","x":1.7,"y":382,"lo":360,"hi":407},{"p":"f","m":"DisentanGAIL","x":1.8,"y":387.8,"lo":366,"hi":409},{"p":"f","m":"DisentanGAIL","x":1.9,"y":394.3,"lo":372,"hi":411},{"p":"f","m":"DisentanGAIL","x":2.0,"y":394.3,"lo":375,"hi":412},
{"p":"f","m":"D3IL (ours)","x":0,"y":220.1,"lo":208,"hi":232},{"p":"f","m":"D3IL (ours)","x":0.1,"y":214.9,"lo":203,"hi":227},{"p":"f","m":"D3IL (ours)","x":0.2,"y":218.1,"lo":205,"hi":231},{"p":"f","m":"D3IL (ours)","x":0.3,"y":218.1,"lo":204,"hi":232},{"p":"f","m":"D3IL (ours)","x":0.4,"y":223.3,"lo":208,"hi":238},{"p":"f","m":"D3IL (ours)","x":0.5,"y":234.3,"lo":219,"hi":250},{"p":"f","m":"D3IL (ours)","x":0.6,"y":244,"lo":228,"hi":260},{"p":"f","m":"D3IL (ours)","x":0.7,"y":255,"lo":239,"hi":271},{"p":"f","m":"D3IL (ours)","x":0.8,"y":266.7,"lo":250,"hi":283},{"p":"f","m":"D3IL (ours)","x":0.9,"y":276.4,"lo":260,"hi":293},{"p":"f","m":"D3IL (ours)","x":1.0,"y":291.3,"lo":275,"hi":308},{"p":"f","m":"D3IL (ours)","x":1.1,"y":308.8,"lo":292,"hi":326},{"p":"f","m":"D3IL (ours)","x":1.2,"y":325,"lo":308,"hi":342},{"p":"f","m":"D3IL (ours)","x":1.3,"y":344.4,"lo":327,"hi":362},{"p":"f","m":"D3IL (ours)","x":1.4,"y":357.4,"lo":340,"hi":375},{"p":"f","m":"D3IL (ours)","x":1.5,"y":369.0,"lo":352,"hi":386},{"p":"f","m":"D3IL (ours)","x":1.6,"y":376.8,"lo":360,"hi":394},{"p":"f","m":"D3IL (ours)","x":1.7,"y":383.3,"lo":366,"hi":401},{"p":"f","m":"D3IL (ours)","x":1.8,"y":389.8,"lo":372,"hi":408},{"p":"f","m":"D3IL (ours)","x":1.9,"y":397.5,"lo":380,"hi":415},{"p":"f","m":"D3IL (ours)","x":2.0,"y":406,"lo":390,"hi":422},
{"p":"f","m":"Target domain expert","x":0,"y":467.5},{"p":"f","m":"Target domain expert","x":2,"y":467.5},

{"p":"g","m":"TPIL","x":0,"y":-7.47,"lo":-7.75,"hi":-7.25},{"p":"g","m":"TPIL","x":0.1,"y":-8.0,"lo":-9.13,"hi":-6.98},{"p":"g","m":"TPIL","x":0.2,"y":-7.34,"lo":-8.0,"hi":-6.4},{"p":"g","m":"TPIL","x":0.3,"y":-7.08,"lo":-7.9,"hi":-6.0},{"p":"g","m":"TPIL","x":0.4,"y":-6.94,"lo":-7.86,"hi":-5.7},{"p":"g","m":"TPIL","x":0.5,"y":-6.83,"lo":-7.82,"hi":-5.62},{"p":"g","m":"TPIL","x":0.6,"y":-6.75,"lo":-7.77,"hi":-5.58},{"p":"g","m":"TPIL","x":0.7,"y":-6.73,"lo":-7.72,"hi":-5.55},{"p":"g","m":"TPIL","x":0.8,"y":-6.73,"lo":-7.67,"hi":-5.5},{"p":"g","m":"TPIL","x":0.9,"y":-6.63,"lo":-7.75,"hi":-5.3},{"p":"g","m":"TPIL","x":1.0,"y":-6.53,"lo":-7.86,"hi":-5.0},{"p":"g","m":"TPIL","x":1.1,"y":-6.06,"lo":-7.37,"hi":-4.5},{"p":"g","m":"TPIL","x":1.2,"y":-5.87,"lo":-7.15,"hi":-4.47},{"p":"g","m":"TPIL","x":1.3,"y":-5.65,"lo":-6.98,"hi":-4.44},{"p":"g","m":"TPIL","x":1.4,"y":-5.46,"lo":-6.6,"hi":-4.4},{"p":"g","m":"TPIL","x":1.5,"y":-5.28,"lo":-6.2,"hi":-4.3},{"p":"g","m":"TPIL","x":1.6,"y":-5.13,"lo":-6.0,"hi":-4.2},{"p":"g","m":"TPIL","x":1.7,"y":-4.97,"lo":-5.71,"hi":-4.0},{"p":"g","m":"TPIL","x":1.8,"y":-4.68,"lo":-5.55,"hi":-3.76},{"p":"g","m":"TPIL","x":1.9,"y":-4.48,"lo":-5.4,"hi":-3.6},{"p":"g","m":"TPIL","x":2.0,"y":-4.25,"lo":-5.22,"hi":-3.47},
{"p":"g","m":"DisentanGAIL","x":0,"y":-7.57,"lo":-7.72,"hi":-7.42},{"p":"g","m":"DisentanGAIL","x":0.1,"y":-6.79,"lo":-7.1,"hi":-6.5},{"p":"g","m":"DisentanGAIL","x":0.2,"y":-5.81,"lo":-6.4,"hi":-5.45},{"p":"g","m":"DisentanGAIL","x":0.3,"y":-5.22,"lo":-5.8,"hi":-4.95},{"p":"g","m":"DisentanGAIL","x":0.4,"y":-4.93,"lo":-5.3,"hi":-4.65},{"p":"g","m":"DisentanGAIL","x":0.5,"y":-4.6,"lo":-4.85,"hi":-4.4},{"p":"g","m":"DisentanGAIL","x":0.6,"y":-4.38,"lo":-4.62,"hi":-4.15},{"p":"g","m":"DisentanGAIL","x":0.7,"y":-4.19,"lo":-4.45,"hi":-3.95},{"p":"g","m":"DisentanGAIL","x":0.8,"y":-4.15,"lo":-4.4,"hi":-3.9},{"p":"g","m":"DisentanGAIL","x":0.9,"y":-3.99,"lo":-4.25,"hi":-3.75},{"p":"g","m":"DisentanGAIL","x":1.0,"y":-3.5,"lo":-3.75,"hi":-3.3},{"p":"g","m":"DisentanGAIL","x":1.1,"y":-3.27,"lo":-3.6,"hi":-2.95},{"p":"g","m":"DisentanGAIL","x":1.2,"y":-3.13,"lo":-3.5,"hi":-2.8},{"p":"g","m":"DisentanGAIL","x":1.3,"y":-3.13,"lo":-3.5,"hi":-2.78},{"p":"g","m":"DisentanGAIL","x":1.4,"y":-3.17,"lo":-3.55,"hi":-2.78},{"p":"g","m":"DisentanGAIL","x":1.5,"y":-3.21,"lo":-3.6,"hi":-2.78},{"p":"g","m":"DisentanGAIL","x":1.6,"y":-3.23,"lo":-3.7,"hi":-2.75},{"p":"g","m":"DisentanGAIL","x":1.7,"y":-3.31,"lo":-3.8,"hi":-2.72},{"p":"g","m":"DisentanGAIL","x":1.8,"y":-3.27,"lo":-3.85,"hi":-2.7},{"p":"g","m":"DisentanGAIL","x":1.9,"y":-3.27,"lo":-3.9,"hi":-2.66},{"p":"g","m":"DisentanGAIL","x":2.0,"y":-3.31,"lo":-3.95,"hi":-2.63},
{"p":"g","m":"D3IL (ours)","x":0,"y":-7.41,"lo":-7.6,"hi":-7.25},{"p":"g","m":"D3IL (ours)","x":0.1,"y":-6.55,"lo":-6.75,"hi":-6.35},{"p":"g","m":"D3IL (ours)","x":0.2,"y":-5.62,"lo":-5.82,"hi":-5.42},{"p":"g","m":"D3IL (ours)","x":0.3,"y":-5.09,"lo":-5.28,"hi":-4.9},{"p":"g","m":"D3IL (ours)","x":0.4,"y":-4.79,"lo":-4.97,"hi":-4.6},{"p":"g","m":"D3IL (ours)","x":0.5,"y":-4.44,"lo":-4.62,"hi":-4.26},{"p":"g","m":"D3IL (ours)","x":0.6,"y":-4.11,"lo":-4.3,"hi":-3.93},{"p":"g","m":"D3IL (ours)","x":0.7,"y":-3.86,"lo":-4.05,"hi":-3.68},{"p":"g","m":"D3IL (ours)","x":0.8,"y":-3.66,"lo":-3.85,"hi":-3.48},{"p":"g","m":"D3IL (ours)","x":0.9,"y":-3.47,"lo":-3.65,"hi":-3.3},{"p":"g","m":"D3IL (ours)","x":1.0,"y":-2.92,"lo":-3.1,"hi":-2.75},{"p":"g","m":"D3IL (ours)","x":1.1,"y":-2.49,"lo":-2.65,"hi":-2.33},{"p":"g","m":"D3IL (ours)","x":1.2,"y":-2.33,"lo":-2.5,"hi":-2.17},{"p":"g","m":"D3IL (ours)","x":1.3,"y":-2.29,"lo":-2.45,"hi":-2.13},{"p":"g","m":"D3IL (ours)","x":1.4,"y":-2.25,"lo":-2.42,"hi":-2.1},{"p":"g","m":"D3IL (ours)","x":1.5,"y":-2.29,"lo":-2.47,"hi":-2.12},{"p":"g","m":"D3IL (ours)","x":1.6,"y":-2.35,"lo":-2.52,"hi":-2.18},{"p":"g","m":"D3IL (ours)","x":1.7,"y":-2.39,"lo":-2.56,"hi":-2.22},{"p":"g","m":"D3IL (ours)","x":1.8,"y":-2.39,"lo":-2.56,"hi":-2.22},{"p":"g","m":"D3IL (ours)","x":1.9,"y":-2.39,"lo":-2.56,"hi":-2.22},{"p":"g","m":"D3IL (ours)","x":2.0,"y":-2.39,"lo":-2.56,"hi":-2.22},
{"p":"g","m":"Target domain expert","x":0,"y":-0.73},{"p":"g","m":"Target domain expert","x":2,"y":-0.73},

{"p":"h","m":"TPIL","x":0,"y":-7.23,"lo":-7.55,"hi":-7.05},{"p":"h","m":"TPIL","x":0.1,"y":-7.19,"lo":-7.8,"hi":-6.7},{"p":"h","m":"TPIL","x":0.2,"y":-7.09,"lo":-8.1,"hi":-6.5},{"p":"h","m":"TPIL","x":0.3,"y":-6.54,"lo":-7.6,"hi":-6.0},{"p":"h","m":"TPIL","x":0.4,"y":-6.15,"lo":-7.0,"hi":-5.6},{"p":"h","m":"TPIL","x":0.5,"y":-5.82,"lo":-6.45,"hi":-5.3},{"p":"h","m":"TPIL","x":0.6,"y":-5.48,"lo":-6.0,"hi":-5.0},{"p":"h","m":"TPIL","x":0.7,"y":-5.13,"lo":-5.5,"hi":-4.7},{"p":"h","m":"TPIL","x":0.8,"y":-4.91,"lo":-5.25,"hi":-4.55},{"p":"h","m":"TPIL","x":0.9,"y":-4.74,"lo":-5.0,"hi":-4.4},{"p":"h","m":"TPIL","x":1.0,"y":-4.35,"lo":-4.8,"hi":-3.9},{"p":"h","m":"TPIL","x":1.1,"y":-3.97,"lo":-4.45,"hi":-3.45},{"p":"h","m":"TPIL","x":1.2,"y":-3.54,"lo":-4.1,"hi":-3.0},{"p":"h","m":"TPIL","x":1.3,"y":-3.45,"lo":-4.0,"hi":-2.95},{"p":"h","m":"TPIL","x":1.4,"y":-3.32,"lo":-3.9,"hi":-2.9},{"p":"h","m":"TPIL","x":1.5,"y":-3.11,"lo":-3.95,"hi":-2.75},{"p":"h","m":"TPIL","x":1.6,"y":-2.97,"lo":-4.0,"hi":-2.6},{"p":"h","m":"TPIL","x":1.7,"y":-2.94,"lo":-4.1,"hi":-2.5},{"p":"h","m":"TPIL","x":1.8,"y":-2.9,"lo":-4.2,"hi":-2.4},{"p":"h","m":"TPIL","x":1.9,"y":-2.94,"lo":-4.22,"hi":-2.45},{"p":"h","m":"TPIL","x":2.0,"y":-2.99,"lo":-4.25,"hi":-2.5},
{"p":"h","m":"DisentanGAIL","x":0,"y":-7.48,"lo":-7.7,"hi":-7.2},{"p":"h","m":"DisentanGAIL","x":0.1,"y":-6.2,"lo":-6.97,"hi":-5.4},{"p":"h","m":"DisentanGAIL","x":0.2,"y":-5.43,"lo":-6.2,"hi":-4.8},{"p":"h","m":"DisentanGAIL","x":0.3,"y":-4.91,"lo":-5.6,"hi":-4.4},{"p":"h","m":"DisentanGAIL","x":0.4,"y":-4.65,"lo":-5.2,"hi":-4.2},{"p":"h","m":"DisentanGAIL","x":0.5,"y":-4.53,"lo":-5.0,"hi":-4.1},{"p":"h","m":"DisentanGAIL","x":0.6,"y":-4.48,"lo":-5.0,"hi":-4.05},{"p":"h","m":"DisentanGAIL","x":0.7,"y":-4.52,"lo":-5.0,"hi":-4.0},{"p":"h","m":"DisentanGAIL","x":0.8,"y":-4.53,"lo":-4.95,"hi":-4.0},{"p":"h","m":"DisentanGAIL","x":0.9,"y":-4.4,"lo":-4.8,"hi":-4.0},{"p":"h","m":"DisentanGAIL","x":1.0,"y":-4.05,"lo":-4.5,"hi":-3.7},{"p":"h","m":"DisentanGAIL","x":1.1,"y":-3.92,"lo":-4.4,"hi":-3.5},{"p":"h","m":"DisentanGAIL","x":1.2,"y":-3.8,"lo":-4.3,"hi":-3.3},{"p":"h","m":"DisentanGAIL","x":1.3,"y":-3.71,"lo":-4.2,"hi":-3.2},{"p":"h","m":"DisentanGAIL","x":1.4,"y":-3.62,"lo":-4.15,"hi":-3.15},{"p":"h","m":"DisentanGAIL","x":1.5,"y":-3.57,"lo":-4.1,"hi":-3.1},{"p":"h","m":"DisentanGAIL","x":1.6,"y":-3.45,"lo":-3.95,"hi":-2.95},{"p":"h","m":"DisentanGAIL","x":1.7,"y":-3.25,"lo":-3.75,"hi":-2.8},{"p":"h","m":"DisentanGAIL","x":1.8,"y":-3.02,"lo":-3.55,"hi":-2.65},{"p":"h","m":"DisentanGAIL","x":1.9,"y":-3.02,"lo":-3.45,"hi":-2.55},{"p":"h","m":"DisentanGAIL","x":2.0,"y":-2.9,"lo":-3.35,"hi":-2.45},
{"p":"h","m":"D3IL (ours)","x":0,"y":-7.31,"lo":-7.5,"hi":-7.1},{"p":"h","m":"D3IL (ours)","x":0.1,"y":-7.14,"lo":-7.5,"hi":-6.75},{"p":"h","m":"D3IL (ours)","x":0.2,"y":-6.46,"lo":-7.0,"hi":-6.0},{"p":"h","m":"D3IL (ours)","x":0.3,"y":-5.82,"lo":-6.3,"hi":-5.35},{"p":"h","m":"D3IL (ours)","x":0.4,"y":-5.48,"lo":-5.95,"hi":-5.05},{"p":"h","m":"D3IL (ours)","x":0.5,"y":-5.25,"lo":-5.65,"hi":-4.85},{"p":"h","m":"D3IL (ours)","x":0.6,"y":-5.05,"lo":-5.45,"hi":-4.65},{"p":"h","m":"D3IL (ours)","x":0.7,"y":-4.79,"lo":-5.2,"hi":-4.4},{"p":"h","m":"D3IL (ours)","x":0.8,"y":-4.65,"lo":-5.05,"hi":-4.25},{"p":"h","m":"D3IL (ours)","x":0.9,"y":-4.48,"lo":-4.9,"hi":-4.0},{"p":"h","m":"D3IL (ours)","x":1.0,"y":-4.05,"lo":-4.45,"hi":-3.6},{"p":"h","m":"D3IL (ours)","x":1.1,"y":-3.54,"lo":-4.0,"hi":-3.0},{"p":"h","m":"D3IL (ours)","x":1.2,"y":-3.11,"lo":-3.65,"hi":-2.45},{"p":"h","m":"D3IL (ours)","x":1.3,"y":-2.85,"lo":-3.45,"hi":-2.1},{"p":"h","m":"D3IL (ours)","x":1.4,"y":-2.51,"lo":-3.2,"hi":-1.8},{"p":"h","m":"D3IL (ours)","x":1.5,"y":-2.25,"lo":-2.95,"hi":-1.5},{"p":"h","m":"D3IL (ours)","x":1.6,"y":-2.03,"lo":-2.7,"hi":-1.3},{"p":"h","m":"D3IL (ours)","x":1.7,"y":-2.03,"lo":-2.75,"hi":-1.45},{"p":"h","m":"D3IL (ours)","x":1.8,"y":-2.03,"lo":-2.7,"hi":-1.3},{"p":"h","m":"D3IL (ours)","x":1.9,"y":-1.87,"lo":-2.55,"hi":-1.15},{"p":"h","m":"D3IL (ours)","x":2.0,"y":-1.7,"lo":-2.4,"hi":-0.97},
{"p":"h","m":"Target domain expert","x":0,"y":-0.71},{"p":"h","m":"Target domain expert","x":2,"y":-0.71}
]},
"vconcat":[
{"hconcat":[
{"width":218,"height":157,"title":{"text":"(a) IPshort-to-color"},"transform":[{"filter":"datum.p=='a'"}],
 "encoding":{"x":{"field":"x","type":"quantitative","scale":{"domain":[-0.1,2.1],"nice":false,"zero":false},"axis":{"values":[0,0.5,1,1.5,2],"format":".1f","title":"Timesteps"}}},
 "layer":[
  {"transform":[{"filter":"datum.m!='Target domain expert'"}],"mark":{"type":"area","fillOpacity":0.2,"clip":true},
   "encoding":{"y":{"field":"lo","type":"quantitative","scale":{"domain":[12.8,52.6],"nice":false,"zero":false},"axis":{"values":[15,20,25,30,35,40,45,50],"title":"Mean episodic return"}},"y2":{"field":"hi"},
   "fill":{"field":"m","type":"nominal","scale":{"domain":["TPIL","DisentanGAIL","D3IL (ours)"],"range":["#0000ff","#008000","#ffa500"]},"legend":null}}},
  {"mark":{"type":"line","strokeWidth":1.2,"clip":true},
   "encoding":{"y":{"field":"y","type":"quantitative","scale":{"domain":[12.8,52.6],"nice":false,"zero":false},"axis":{"values":[15,20,25,30,35,40,45,50],"title":"Mean episodic return"}},
   "stroke":{"field":"m","type":"nominal","scale":{"domain":["TPIL","DisentanGAIL","D3IL (ours)","Target domain expert"],"range":["#0000ff","#008000","#ffa500","#dd00dd"]},"legend":{"title":null}},
   "strokeDash":{"field":"m","type":"nominal","scale":{"domain":["TPIL","DisentanGAIL","D3IL (ours)","Target domain expert"],"range":[[1,0],[1,0],[1,0],[3,1.6]]},"legend":{"title":null}}}},
  {"transform":[{"filter":"datum.m=='Target domain expert' && datum.x==2"}],"mark":{"type":"text","text":"1e4","align":"right","baseline":"top","dy":12,"fontSize":7,"font":"DejaVu Sans","color":"#222"},
   "encoding":{"x":{"value":"width"},"y":{"value":"height"}}}
 ]},
{"width":215,"height":157,"title":{"text":"(b) IDPshort-to-color"},"transform":[{"filter":"datum.p=='b'"}],
 "encoding":{"x":{"field":"x","type":"quantitative","scale":{"domain":[-0.1,2.1],"nice":false,"zero":false},"axis":{"values":[0,0.5,1,1.5,2],"format":".1f","title":"Timesteps"}}},
 "layer":[
  {"transform":[{"filter":"datum.m!='Target domain expert'"}],"mark":{"type":"area","fillOpacity":0.2,"clip":true},
   "encoding":{"y":{"field":"lo","type":"quantitative","scale":{"domain":[164.7,490],"nice":false,"zero":false},"axis":{"values":[200,250,300,350,400,450],"title":"Mean episodic return"}},"y2":{"field":"hi"},
   "fill":{"field":"m","type":"nominal","scale":{"domain":["TPIL","DisentanGAIL","D3IL (ours)"],"range":["#0000ff","#008000","#ffa500"]},"legend":null}}},
  {"mark":{"type":"line","strokeWidth":1.2,"clip":true},
   "encoding":{"y":{"field":"y","type":"quantitative","scale":{"domain":[164.7,490],"nice":false,"zero":false},"axis":{"values":[200,250,300,350,400,450],"title":"Mean episodic return"}},
   "stroke":{"field":"m","type":"nominal","scale":{"domain":["TPIL","DisentanGAIL","D3IL (ours)","Target domain expert"],"range":["#0000ff","#008000","#ffa500","#dd00dd"]},"legend":{"title":null}},
   "strokeDash":{"field":"m","type":"nominal","scale":{"domain":["TPIL","DisentanGAIL","D3IL (ours)","Target domain expert"],"range":[[1,0],[1,0],[1,0],[3,1.6]]},"legend":{"title":null}}}},
  {"transform":[{"filter":"datum.m=='Target domain expert' && datum.x==2"}],"mark":{"type":"text","text":"1e4","align":"right","baseline":"top","dy":12,"fontSize":7,"font":"DejaVu Sans","color":"#222"},
   "encoding":{"x":{"value":"width"},"y":{"value":"height"}}}
 ]},
{"width":213,"height":157,"title":{"text":"(c) RE2onegoal-to-tilted"},"transform":[{"filter":"datum.p=='c'"}],
 "encoding":{"x":{"field":"x","type":"quantitative","scale":{"domain":[-0.1,2.1],"nice":false,"zero":false},"axis":{"values":[0,0.5,1,1.5,2],"format":".1f","title":"Timesteps"}}},
 "layer":[
  {"transform":[{"filter":"datum.m!='Target domain expert'"}],"mark":{"type":"area","fillOpacity":0.2,"clip":true},
   "encoding":{"y":{"field":"lo","type":"quantitative","scale":{"domain":[-10.06,-0.23],"nice":false,"zero":false},"axis":{"values":[-10,-8,-6,-4,-2],"title":"Mean episodic return"}},"y2":{"field":"hi"},
   "fill":{"field":"m","type":"nominal","scale":{"domain":["TPIL","DisentanGAIL","D3IL (ours)"],"range":["#0000ff","#008000","#ffa500"]},"legend":null}}},
  {"mark":{"type":"line","strokeWidth":1.2,"clip":true},
   "encoding":{"y":{"field":"y","type":"quantitative","scale":{"domain":[-10.06,-0.23],"nice":false,"zero":false},"axis":{"values":[-10,-8,-6,-4,-2],"title":"Mean episodic return"}},
   "stroke":{"field":"m","type":"nominal","scale":{"domain":["TPIL","DisentanGAIL","D3IL (ours)","Target domain expert"],"range":["#0000ff","#008000","#ffa500","#dd00dd"]},"legend":{"title":null}},
   "strokeDash":{"field":"m","type":"nominal","scale":{"domain":["TPIL","DisentanGAIL","D3IL (ours)","Target domain expert"],"range":[[1,0],[1,0],[1,0],[3,1.6]]},"legend":{"title":null}}}},
  {"transform":[{"filter":"datum.m=='Target domain expert' && datum.x==2"}],"mark":{"type":"text","text":"1e4","align":"right","baseline":"top","dy":12,"fontSize":7,"font":"DejaVu Sans","color":"#222"},
   "encoding":{"x":{"value":"width"},"y":{"value":"height"}}}
 ]},
{"width":213,"height":157,"title":{"text":"(d) RE3onegoal-to-tilted"},"transform":[{"filter":"datum.p=='d'"}],
 "encoding":{"x":{"field":"x","type":"quantitative","scale":{"domain":[-0.1,2.1],"nice":false,"zero":false},"axis":{"values":[0,0.5,1,1.5,2],"format":".1f","title":"Timesteps"}}},
 "layer":[
  {"transform":[{"filter":"datum.m!='Target domain expert'"}],"mark":{"type":"area","fillOpacity":0.2,"clip":true},
   "encoding":{"y":{"field":"lo","type":"quantitative","scale":{"domain":[-8.58,-0.24],"nice":false,"zero":false},"axis":{"values":[-8,-7,-6,-5,-4,-3,-2,-1],"title":"Mean episodic return"}},"y2":{"field":"hi"},
   "fill":{"field":"m","type":"nominal","scale":{"domain":["TPIL","DisentanGAIL","D3IL (ours)"],"range":["#0000ff","#008000","#ffa500"]},"legend":null}}},
  {"mark":{"type":"line","strokeWidth":1.2,"clip":true},
   "encoding":{"y":{"field":"y","type":"quantitative","scale":{"domain":[-8.58,-0.24],"nice":false,"zero":false},"axis":{"values":[-8,-7,-6,-5,-4,-3,-2,-1],"title":"Mean episodic return"}},
   "stroke":{"field":"m","type":"nominal","scale":{"domain":["TPIL","DisentanGAIL","D3IL (ours)","Target domain expert"],"range":["#0000ff","#008000","#ffa500","#dd00dd"]},"legend":{"title":null}},
   "strokeDash":{"field":"m","type":"nominal","scale":{"domain":["TPIL","DisentanGAIL","D3IL (ours)","Target domain expert"],"range":[[1,0],[1,0],[1,0],[3,1.6]]},"legend":{"title":null}}}},
  {"transform":[{"filter":"datum.m=='Target domain expert' && datum.x==2"}],"mark":{"type":"text","text":"1e4","align":"right","baseline":"top","dy":12,"fontSize":7,"font":"DejaVu Sans","color":"#222"},
   "encoding":{"x":{"value":"width"},"y":{"value":"height"}}}
 ]}
],"spacing":52,"bounds":"flush"},
{"hconcat":[
{"width":219,"height":157,"title":{"text":"(e) IDPshort-to-one"},"transform":[{"filter":"datum.p=='e'"}],
 "encoding":{"x":{"field":"x","type":"quantitative","scale":{"domain":[-0.1,2.1],"nice":false,"zero":false},"axis":{"values":[0,0.5,1,1.5,2],"format":".1f","title":"Timesteps"}}},
 "layer":[
  {"transform":[{"filter":"datum.m!='Target domain expert'"}],"mark":{"type":"area","fillOpacity":0.2,"clip":true},
   "encoding":{"y":{"field":"lo","type":"quantitative","scale":{"domain":[13.3,53.4],"nice":false,"zero":false},"axis":{"values":[15,20,25,30,35,40,45,50],"title":"Mean episodic return"}},"y2":{"field":"hi"},
   "fill":{"field":"m","type":"nominal","scale":{"domain":["TPIL","DisentanGAIL","D3IL (ours)"],"range":["#0000ff","#008000","#ffa500"]},"legend":null}}},
  {"mark":{"type":"line","strokeWidth":1.2,"clip":true},
   "encoding":{"y":{"field":"y","type":"quantitative","scale":{"domain":[13.3,53.4],"nice":false,"zero":false},"axis":{"values":[15,20,25,30,35,40,45,50],"title":"Mean episodic return"}},
   "stroke":{"field":"m","type":"nominal","scale":{"domain":["TPIL","DisentanGAIL","D3IL (ours)","Target domain expert"],"range":["#0000ff","#008000","#ffa500","#dd00dd"]},"legend":{"title":null}},
   "strokeDash":{"field":"m","type":"nominal","scale":{"domain":["TPIL","DisentanGAIL","D3IL (ours)","Target domain expert"],"range":[[1,0],[1,0],[1,0],[3,1.6]]},"legend":{"title":null}}}},
  {"transform":[{"filter":"datum.m=='Target domain expert' && datum.x==2"}],"mark":{"type":"text","text":"1e4","align":"right","baseline":"top","dy":12,"fontSize":7,"font":"DejaVu Sans","color":"#222"},
   "encoding":{"x":{"value":"width"},"y":{"value":"height"}}}
 ]},
{"width":214,"height":157,"title":{"text":"(f) IPshort-to-two"},"transform":[{"filter":"datum.p=='f'"}],
 "encoding":{"x":{"field":"x","type":"quantitative","scale":{"domain":[-0.1,2.1],"nice":false,"zero":false},"axis":{"values":[0,0.5,1,1.5,2],"format":".1f","title":"Timesteps"}}},
 "layer":[
  {"transform":[{"filter":"datum.m!='Target domain expert'"}],"mark":{"type":"area","fillOpacity":0.2,"clip":true},
   "encoding":{"y":{"field":"lo","type":"quantitative","scale":{"domain":[176,481.8],"nice":false,"zero":false},"axis":{"values":[200,250,300,350,400,450],"title":"Mean episodic return"}},"y2":{"field":"hi"},
   "fill":{"field":"m","type":"nominal","scale":{"domain":["TPIL","DisentanGAIL","D3IL (ours)"],"range":["#0000ff","#008000","#ffa500"]},"legend":null}}},
  {"mark":{"type":"line","strokeWidth":1.2,"clip":true},
   "encoding":{"y":{"field":"y","type":"quantitative","scale":{"domain":[176,481.8],"nice":false,"zero":false},"axis":{"values":[200,250,300,350,400,450],"title":"Mean episodic return"}},
   "stroke":{"field":"m","type":"nominal","scale":{"domain":["TPIL","DisentanGAIL","D3IL (ours)","Target domain expert"],"range":["#0000ff","#008000","#ffa500","#dd00dd"]},"legend":{"title":null}},
   "strokeDash":{"field":"m","type":"nominal","scale":{"domain":["TPIL","DisentanGAIL","D3IL (ours)","Target domain expert"],"range":[[1,0],[1,0],[1,0],[3,1.6]]},"legend":{"title":null}}}},
  {"transform":[{"filter":"datum.m=='Target domain expert' && datum.x==2"}],"mark":{"type":"text","text":"1e4","align":"right","baseline":"top","dy":12,"fontSize":7,"font":"DejaVu Sans","color":"#222"},
   "encoding":{"x":{"value":"width"},"y":{"value":"height"}}}
 ]},
{"width":216,"height":157,"title":{"text":"(g) RE3onegoal-to-two"},"transform":[{"filter":"datum.p=='g'"}],
 "encoding":{"x":{"field":"x","type":"quantitative","scale":{"domain":[-0.1,2.1],"nice":false,"zero":false},"axis":{"values":[0,0.5,1,1.5,2],"format":".1f","title":"Timesteps"}}},
 "layer":[
  {"transform":[{"filter":"datum.m!='Target domain expert'"}],"mark":{"type":"area","fillOpacity":0.2,"clip":true},
   "encoding":{"y":{"field":"lo","type":"quantitative","scale":{"domain":[-9.52,-0.3],"nice":false,"zero":false},"axis":{"values":[-8,-6,-4,-2],"title":"Mean episodic return"}},"y2":{"field":"hi"},
   "fill":{"field":"m","type":"nominal","scale":{"domain":["TPIL","DisentanGAIL","D3IL (ours)"],"range":["#0000ff","#008000","#ffa500"]},"legend":null}}},
  {"mark":{"type":"line","strokeWidth":1.2,"clip":true},
   "encoding":{"y":{"field":"y","type":"quantitative","scale":{"domain":[-9.52,-0.3],"nice":false,"zero":false},"axis":{"values":[-8,-6,-4,-2],"title":"Mean episodic return"}},
   "stroke":{"field":"m","type":"nominal","scale":{"domain":["TPIL","DisentanGAIL","D3IL (ours)","Target domain expert"],"range":["#0000ff","#008000","#ffa500","#dd00dd"]},"legend":{"title":null}},
   "strokeDash":{"field":"m","type":"nominal","scale":{"domain":["TPIL","DisentanGAIL","D3IL (ours)","Target domain expert"],"range":[[1,0],[1,0],[1,0],[3,1.6]]},"legend":{"title":null}}}},
  {"transform":[{"filter":"datum.m=='Target domain expert' && datum.x==2"}],"mark":{"type":"text","text":"1e4","align":"right","baseline":"top","dy":12,"fontSize":7,"font":"DejaVu Sans","color":"#222"},
   "encoding":{"x":{"value":"width"},"y":{"value":"height"}}}
 ]},
{"width":212,"height":157,"title":{"text":"(h) RE2onegoal-to-three"},"transform":[{"filter":"datum.p=='h'"}],
 "encoding":{"x":{"field":"x","type":"quantitative","scale":{"domain":[-0.1,2.1],"nice":false,"zero":false},"axis":{"values":[0,0.5,1,1.5,2],"format":".1f","title":"Timesteps"}}},
 "layer":[
  {"transform":[{"filter":"datum.m!='Target domain expert'"}],"mark":{"type":"area","fillOpacity":0.2,"clip":true},
   "encoding":{"y":{"field":"lo","type":"quantitative","scale":{"domain":[-8.43,-0.33],"nice":false,"zero":false},"axis":{"values":[-8,-7,-6,-5,-4,-3,-2,-1],"title":"Mean episodic return"}},"y2":{"field":"hi"},
   "fill":{"field":"m","type":"nominal","scale":{"domain":["TPIL","DisentanGAIL","D3IL (ours)"],"range":["#0000ff","#008000","#ffa500"]},"legend":null}}},
  {"mark":{"type":"line","strokeWidth":1.2,"clip":true},
   "encoding":{"y":{"field":"y","type":"quantitative","scale":{"domain":[-8.43,-0.33],"nice":false,"zero":false},"axis":{"values":[-8,-7,-6,-5,-4,-3,-2,-1],"title":"Mean episodic return"}},
   "stroke":{"field":"m","type":"nominal","scale":{"domain":["TPIL","DisentanGAIL","D3IL (ours)","Target domain expert"],"range":["#0000ff","#008000","#ffa500","#dd00dd"]},"legend":{"title":null}},
   "strokeDash":{"field":"m","type":"nominal","scale":{"domain":["TPIL","DisentanGAIL","D3IL (ours)","Target domain expert"],"range":[[1,0],[1,0],[1,0],[3,1.6]]},"legend":{"title":null}}}},
  {"transform":[{"filter":"datum.m=='Target domain expert' && datum.x==2"}],"mark":{"type":"text","text":"1e4","align":"right","baseline":"top","dy":12,"fontSize":7,"font":"DejaVu Sans","color":"#222"},
   "encoding":{"x":{"value":"width"},"y":{"value":"height"}}}
 ]}
],"spacing":52,"bounds":"flush"}
],
"spacing":3,
"config":{
 "font":"DejaVu Sans",
 "view":{"stroke":"#222","strokeWidth":1},
 "axis":{"labelFont":"DejaVu Sans","labelFontSize":7,"labelColor":"#222","titleFont":"DejaVu Sans","titleFontSize":7,"titleFontWeight":"normal","titleColor":"#222","tickSize":2.5,"tickColor":"#222","labelPadding":1.5,"titlePadding":1,"domain":false,"gridColor":"#dddddd","gridWidth":1},
 "axisY":{"titlePadding":3},
 "title":{"font":"Liberation Serif","fontSize":20,"fontWeight":"normal","color":"#000","orient":"bottom","offset":30},
 "legend":{"orient":"none","legendX":187,"legendY":-41,"direction":"horizontal","symbolType":"stroke","symbolSize":900,"symbolStrokeWidth":1.5,"labelFont":"DejaVu Sans","labelFontSize":14,"labelColor":"#000","labelOffset":10,"columnPadding":27,"padding":6,"strokeColor":"#cccccc","cornerRadius":3,"fillColor":"#ffffff","labelLimit":300}
}
}
